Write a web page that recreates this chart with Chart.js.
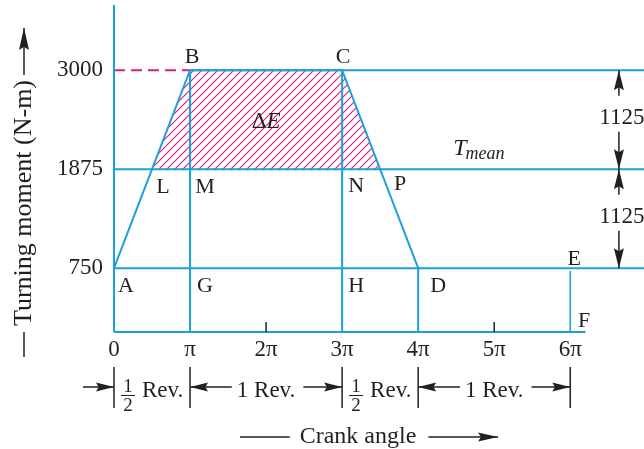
<!DOCTYPE html>
<html>
<head>
<meta charset="utf-8">
<title>Turning moment diagram</title>
<script src="https://cdn.jsdelivr.net/npm/chart.js@4"></script>
<style>
  html, body { margin: 0; padding: 0; background: #fff; }
  canvas { display: block; }
</style>
</head>
<body>
<canvas id="tmd" width="644" height="449"></canvas>
<script>
// crank angle in multiples of π
const crankAngle = [0, 1, 3, 4];
const turningMoment = [750, 3000, 3000, 750];
const pointNames = ['A', 'B', 'C', 'D'];
const tMean = 1875;
const levels = [3000, 1875, 750];
const angleTicks = [0, 1, 2, 3, 4, 5, 6];
const angleLabels = ['0', 'π', '2π', '3π', '4π', '5π', '6π'];
const cycleEnd = 6;
// excess energy area L-B-C-P
const areaAngle = [0.5, 1, 3, 3.5];
const areaMoment = [1875, 3000, 3000, 1875];
const fluctuation = [1125, 1125];
// revolution markers under the axis
const revMarks = [0, 1, 3, 4, 6];
const revText = ['½', '1', '½', '1'];

const xMax = 6.97;
const xAxisEnd = 6.2;
const yMin = 25;
const yMax = 3740;

const ink = '#231f20';
const blue = '#1ca0da';
const pink = '#e5177e';
const serif = '"Liberation Serif", "Times New Roman", serif';

Chart.defaults.font.family = serif;
Chart.defaults.color = ink;

// diagonal hatch for the ΔE area
function hatchPattern() {
    const c = document.createElement('canvas');
    c.width = 8;
    c.height = 8;
    const g = c.getContext('2d');
    g.strokeStyle = pink;
    g.lineWidth = 1.1;
    g.beginPath();
    g.moveTo(-1, 9); g.lineTo(9, -1);
    g.moveTo(-1, 1); g.lineTo(1, -1);
    g.moveTo(7, 9); g.lineTo(9, 7);
    g.stroke();
    return g.createPattern(c, 'repeat');
}

const pts = (xs, ys) => xs.map((v, i) => ({ x: v, y: ys[i] }));

function line(data, extra) {
    return Object.assign({
        data: data,
        showLine: true,
        borderColor: blue,
        borderWidth: 2,
        pointRadius: 0,
        fill: false,
        clip: false
    }, extra || {});
}

const datasets = [];
// the turning moment curve A-B-C-D
datasets.push(line(pts(crankAngle, turningMoment)));
// horizontal levels, 3000 starts at B
levels.forEach(v => {
    const i = turningMoment.indexOf(v);
    const start = i > 0 ? crankAngle[i] : 0;
    datasets.push(line([{ x: start, y: v }, { x: xMax, y: v }]));
});
// axes
datasets.push(line([{ x: 0, y: yMin }, { x: xAxisEnd, y: yMin }]));
datasets.push(line([{ x: 0, y: yMin }, { x: 0, y: yMax }]));
// verticals through B, C, D and E
crankAngle.slice(1).forEach((a, i) => {
    datasets.push(line([{ x: a, y: yMin }, { x: a, y: turningMoment[i + 1] }]));
});
datasets.push(line([{ x: cycleEnd, y: yMin }, { x: cycleEnd, y: levels[2] - 30 }], { borderWidth: 1.6 }));
// dashed guide to the 3000 tick
datasets.push(line([{ x: 0, y: levels[0] }, { x: crankAngle[1], y: levels[0] }], {
    borderColor: pink, borderDash: [11, 6]
}));
// hatched area, last so it is painted first
datasets.push(line(pts(areaAngle, areaMoment), {
    borderWidth: 0,
    fill: { value: tMean },
    backgroundColor: hatchPattern()
}));

function arrowHead(ctx, x, y, ang, len, half) {
    ctx.save();
    ctx.translate(x, y);
    ctx.rotate(ang);
    ctx.beginPath();
    ctx.moveTo(0, 0);
    ctx.lineTo(-len, -half);
    ctx.lineTo(-len * 0.85, 0);
    ctx.lineTo(-len, half);
    ctx.closePath();
    ctx.fill();
    ctx.restore();
}

function arrow(ctx, x1, y1, x2, y2, len, half) {
    ctx.beginPath();
    ctx.moveTo(x1, y1);
    ctx.lineTo(x2, y2);
    ctx.stroke();
    arrowHead(ctx, x2, y2, Math.atan2(y2 - y1, x2 - x1), len || 18, half || 4.5);
}

const notes = {
    id: 'notes',
    afterDraw(chart) {
        const { ctx, scales: { x, y } } = chart;
        const px = v => x.getPixelForValue(v);
        const py = v => y.getPixelForValue(v);
        ctx.save();
        ctx.fillStyle = ink;
        ctx.strokeStyle = ink;
        ctx.lineWidth = 1.5;
        ctx.textAlign = 'center';
        ctx.textBaseline = 'alphabetic';

        // point letters
        ctx.font = '22px ' + serif;
        const put = (s, xv, yv, dx, dy) => ctx.fillText(s, px(xv) + dx, py(yv) + dy);
        put(pointNames[0], crankAngle[0], turningMoment[0], 12, 24);
        put(pointNames[1], crankAngle[1], turningMoment[1], 2, -7);
        put(pointNames[2], crankAngle[2], turningMoment[2], 1, -7);
        put(pointNames[3], crankAngle[3], turningMoment[3], 20, 24);
        put('L', areaAngle[0], tMean, 11, 24);
        put('M', crankAngle[1], tMean, 15, 24);
        put('N', crankAngle[2], tMean, 14, 23);
        put('P', areaAngle[3], tMean, 20, 21);
        put('G', crankAngle[1], levels[2], 15, 24);
        put('H', crankAngle[2], levels[2], 14, 24);
        put('E', cycleEnd, levels[2], 4, -3);
        put('F', cycleEnd, yMin, 14, -5);

        // ΔE
        const midTop = (levels[0] + tMean) / 2;
        ctx.font = '23px ' + serif;
        const wd = ctx.measureText('Δ').width;
        ctx.font = 'italic 23px ' + serif;
        const we = ctx.measureText('E').width;
        let lx = px(2) - (wd + we) / 2;
        ctx.textAlign = 'left';
        ctx.font = '23px ' + serif;
        ctx.fillText('Δ', lx, py(midTop) + 8);
        ctx.font = 'italic 23px ' + serif;
        ctx.fillText('E', lx + wd, py(midTop) + 8);

        // T mean
        ctx.font = 'italic 24px ' + serif;
        const tx = px(4.46);
        ctx.fillText('T', tx, py(tMean) - 14);
        const wt = ctx.measureText('T').width;
        ctx.font = 'italic 18px ' + serif;
        ctx.fillText('mean', tx + wt - 1, py(tMean) - 10);

        // fluctuation dimensions
        ctx.textAlign = 'center';
        ctx.textBaseline = 'middle';
        ctx.font = '23px ' + serif;
        const dx = px(6.64);
        let top = levels[0];
        fluctuation.forEach(d => {
            const bot = top - d;
            const tc = (py(top) + py(bot)) / 2 - 2;
            ctx.fillText(String(d), dx + 3, tc);
            arrow(ctx, dx, tc - 22, dx, py(top), 20, 5);
            arrow(ctx, dx, tc + 14, dx, py(bot), 20, 5);
            top = bot;
        });

        // small ticks at 2π and 5π
        ctx.lineWidth = 1.5;
        angleTicks.filter(a => !revMarks.includes(a)).forEach(a => {
            ctx.beginPath();
            ctx.moveTo(px(a), py(yMin));
            ctx.lineTo(px(a), py(yMin) - 10);
            ctx.stroke();
        });

        // revolutions row
        const ry = 387;
        revMarks.forEach(a => {
            ctx.beginPath();
            ctx.moveTo(px(a), 367);
            ctx.lineTo(px(a), 408);
            ctx.stroke();
        });
        arrow(ctx, px(revMarks[0]) - 31, ry, px(revMarks[0]), ry, 18, 4.5);
        ctx.textBaseline = 'alphabetic';
        for (let i = 0; i < revText.length; i++) {
            const a = px(revMarks[i]);
            const b = px(revMarks[i + 1]);
            if (revText[i] === '½') {
                const fx = a + 14;
                ctx.font = '19px ' + serif;
                ctx.textAlign = 'center';
                ctx.fillText('1', fx, 392);
                ctx.fillText('2', fx, 411);
                ctx.beginPath();
                ctx.moveTo(fx - 7, 395.5);
                ctx.lineTo(fx + 7, 395.5);
                ctx.lineWidth = 1;
                ctx.stroke();
                ctx.lineWidth = 1.5;
                ctx.font = '23px ' + serif;
                ctx.textAlign = 'left';
                ctx.fillText('Rev.', fx + 14, 397);
            } else {
                const label = revText[i] + ' Rev.';
                ctx.font = '23px ' + serif;
                ctx.textAlign = 'center';
                const c = (a + b) / 2;
                const w = ctx.measureText(label).width;
                ctx.fillText(label, c, 397);
                arrow(ctx, c - w / 2 - 5, ry, a, ry, 18, 4.5);
                arrow(ctx, c + w / 2 + 8, ry, b, ry, 18, 4.5);
            }
        }

        // axis titles
        ctx.font = '24px ' + serif;
        ctx.textAlign = 'center';
        ctx.textBaseline = 'middle';
        const cw = ctx.measureText('Crank angle').width;
        const cx = 358;
        const cy = 437;
        ctx.fillText('Crank angle', cx, cy);
        ctx.beginPath();
        ctx.moveTo(240, cy);
        ctx.lineTo(cx - cw / 2 - 10, cy);
        ctx.stroke();
        arrow(ctx, cx + cw / 2 + 12, cy, 498, cy, 20, 4.5);

        ctx.save();
        ctx.font = '26px ' + serif;
        ctx.translate(24, 203);
        ctx.rotate(-Math.PI / 2);
        const yt = 'Turning moment (N-m)';
        const yw = ctx.measureText(yt).width;
        ctx.fillText(yt, 0, 0);
        ctx.beginPath();
        ctx.moveTo(-154, 0);
        ctx.lineTo(-yw / 2 - 6, 0);
        ctx.stroke();
        arrow(ctx, yw / 2 + 5, 0, 175, 0, 22, 5);
        ctx.restore();

        ctx.restore();
    }
};

new Chart(document.getElementById('tmd'), {
    type: 'scatter',
    data: { datasets: datasets },
    options: {
        responsive: false,
        animation: false,
        layout: { padding: { top: 5, right: 0, bottom: 0, left: 0 } },
        plugins: { legend: { display: false }, tooltip: { enabled: false } },
        scales: {
            x: {
                type: 'linear',
                min: 0,
                max: xMax,
                grid: { display: false, drawTicks: false },
                border: { display: false },
                afterBuildTicks: s => { s.ticks = angleTicks.map(v => ({ value: v })); },
                afterFit: s => {
                    s.height = 449 - 332;
                    s.paddingLeft = 0;
                    s.paddingRight = 0;
                },
                ticks: {
                    autoSkip: false,
                    maxRotation: 0,
                    padding: 4,
                    font: { size: 23 },
                    callback: v => angleLabels[angleTicks.indexOf(v)]
                }
            },
            y: {
                type: 'linear',
                min: yMin,
                max: yMax,
                grid: { display: false, drawTicks: false },
                border: { display: false },
                afterBuildTicks: s => { s.ticks = levels.map(v => ({ value: v })); },
                afterFit: s => {
                    s.width = 114;
                    s.paddingTop = 0;
                    s.paddingBottom = 0;
                },
                ticks: {
                    padding: 11,
                    font: { size: 23 },
                    callback: v => String(v)
                }
            }
        }
    },
    plugins: [notes]
});
</script>
</body>
</html>
